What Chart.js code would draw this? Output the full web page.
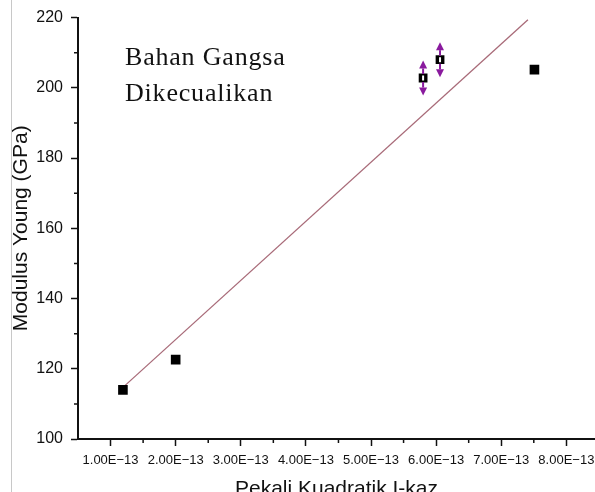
<!DOCTYPE html>
<html>
<head>
<meta charset="utf-8">
<script src="https://cdn.jsdelivr.net/npm/chart.js@4.4.1/dist/chart.umd.min.js"></script>
<style>
body { margin: 0; background: #fff; }
#wrap { position: relative; width: 595px; height: 492px; }
#edge { position: absolute; left: 11px; top: 0; width: 1px; height: 492px; background: #c8c8c8; }
</style>
</head>
<body>
<div id="wrap">
    <canvas id="myChart" width="595" height="492"></canvas>
    <div id="edge"></div>
</div>
<script>
// pekali kuadratik I-kaz vs modulus Young
const pekali = [1.19e-13, 2.0e-13, 5.80e-13, 6.06e-13, 7.51e-13];
const modulus = [114, 122.6, 202.8, 208, 205.2];
const modulusErr = [0, 0, 5, 5, 0];

// garis padanan linear (hujung-hujung)
const fitX = [1.22e-13, 7.41e-13];
const fitY = [115.2, 219.4];

const xTicks = [1e-13, 2e-13, 3e-13, 4e-13, 5e-13, 6e-13, 7e-13, 8e-13];
const xMinor = [1.5e-13, 2.5e-13, 3.5e-13, 4.5e-13, 5.5e-13, 6.5e-13, 7.5e-13];
const yTicks = [100, 120, 140, 160, 180, 200, 220];
const yMinor = [110, 130, 150, 170, 190, 210];

const noteLines = ['Bahan Gangsa', 'Dikecualikan'];

Chart.defaults.font.family = '"Liberation Sans", Arial, sans-serif';
Chart.defaults.color = '#222';

// tanda kecil pada paksi
const minorTicks = {
    id: 'minorTicks',
    afterDraw(chart) {
        const ctx = chart.ctx, x = chart.scales.x, y = chart.scales.y;
        ctx.save();
        ctx.strokeStyle = '#111';
        ctx.lineWidth = 1.5;
        ctx.beginPath();
        xMinor.forEach(v => {
            const px = x.getPixelForValue(v);
            ctx.moveTo(px, x.top);
            ctx.lineTo(px, x.top + 4);
        });
        yMinor.forEach(v => {
            const py = y.getPixelForValue(v);
            ctx.moveTo(y.right, py);
            ctx.lineTo(y.right - 4, py);
        });
        ctx.stroke();
        ctx.restore();
    }
};

// anak panah ralat (ungu)
const errorArrows = {
    id: 'errorArrows',
    afterDatasetsDraw(chart) {
        const ctx = chart.ctx, x = chart.scales.x, y = chart.scales.y;
        const purple = '#8a1a9e';
        ctx.save();
        ctx.lineWidth = 2;
        modulus.forEach((v, i) => {
            const e = modulusErr[i];
            if (!e) return;
            const px = x.getPixelForValue(pekali[i]);
            const py = y.getPixelForValue(v);
            ctx.strokeStyle = purple;
            ctx.fillStyle = purple;
            [1, -1].forEach(dir => {
                const tip = y.getPixelForValue(v + dir * e);
                const base = tip + dir * 8;
                ctx.beginPath();
                ctx.moveTo(px, py - dir * 4);
                ctx.lineTo(px, base);
                ctx.stroke();
                ctx.beginPath();
                ctx.moveTo(px, tip);
                ctx.lineTo(px - 4, base);
                ctx.lineTo(px + 4, base);
                ctx.closePath();
                ctx.fill();
            });
            ctx.fillStyle = '#fff';
            ctx.fillRect(px - 1, py - 2.5, 2, 5);
        });
        ctx.restore();
    }
};

// teks nota
const note = {
    id: 'note',
    afterDraw(chart) {
        const {ctx, chartArea} = chart;
        ctx.save();
        ctx.font = '26px "Liberation Serif", "Times New Roman", serif';
        ctx.letterSpacing = '0.8px';
        ctx.fillStyle = '#111';
        ctx.textBaseline = 'alphabetic';
        noteLines.forEach((t, i) => ctx.fillText(t, chartArea.left + 47, chartArea.top + 47 + i * 36.5));
        ctx.restore();
    }
};

// paksi x sampai ke tepi kanan kanvas, label terakhir tak perlu ruang tambahan
const noLabelPadding = s => {
    s._calculatePadding = function () {
        this.paddingLeft = 0;
        this.paddingRight = 0;
        this.paddingTop = 0;
        this.paddingBottom = 0;
    };
};

const ctx = document.getElementById('myChart').getContext('2d');
new Chart(ctx, {
    type: 'scatter',
    data: {
        datasets: [
            {
                data: pekali.map((v, i) => ({x: v, y: modulus[i]})),
                pointStyle: 'rect',
                pointRadius: [6.8, 6.8, 6.2, 6.2, 6.8],
                pointHoverRadius: 0,
                backgroundColor: '#000',
                borderWidth: 0,
            },
            {
                data: fitX.map((v, i) => ({x: v, y: fitY[i]})),
                showLine: true,
                borderColor: '#a86a78',
                borderWidth: 1.3,
                pointRadius: 0,
                pointHoverRadius: 0,
            }
        ]
    },
    options: {
        responsive: false,
        animation: false,
        layout: {autoPadding: false, padding: {top: 15, right: 0, bottom: 0, left: 0}},
        plugins: {legend: {display: false}, tooltip: {enabled: false}},
        scales: {
            x: {
                type: 'linear',
                min: 0.5e-13,
                max: 8.44e-13,
                afterBuildTicks: s => { s.ticks = xTicks.map(v => ({value: v})); },
                beforeFit: noLabelPadding,
                afterFit: s => { s.height = 53; },
                grid: {drawOnChartArea: false, drawTicks: true, tickLength: 7, tickColor: '#111', tickWidth: 1.5},
                border: {display: true, color: '#111', width: 2},
                ticks: {
                    autoSkip: false,
                    maxRotation: 0,
                    padding: 7,
                    color: '#111',
                    font: {size: 13},
                    callback: v => (v / 1e-13).toFixed(2) + 'E\u221213'
                },
                title: {
                    display: true,
                    text: 'Pekali Kuadratik I-kaz',
                    font: {size: 21, lineHeight: 0.31},
                    padding: {top: 0, bottom: 0},
                    color: '#111'
                }
            },
            y: {
                min: 100,
                max: 220,
                afterBuildTicks: s => { s.ticks = yTicks.map(v => ({value: v})); },
                afterFit: s => { s.width = 78; },
                grid: {drawOnChartArea: false, drawTicks: true, tickLength: 7, tickColor: '#111', tickWidth: 1.5},
                border: {display: true, color: '#111', width: 2},
                ticks: {padding: 8, color: '#111', font: {size: 16}},
                title: {
                    display: true,
                    text: 'Modulus Young (GPa)',
                    font: {size: 21},
                    padding: {top: 9, bottom: 0},
                    color: '#111'
                }
            }
        }
    },
    plugins: [minorTicks, errorArrows, note]
});
</script>
</body>
</html>
